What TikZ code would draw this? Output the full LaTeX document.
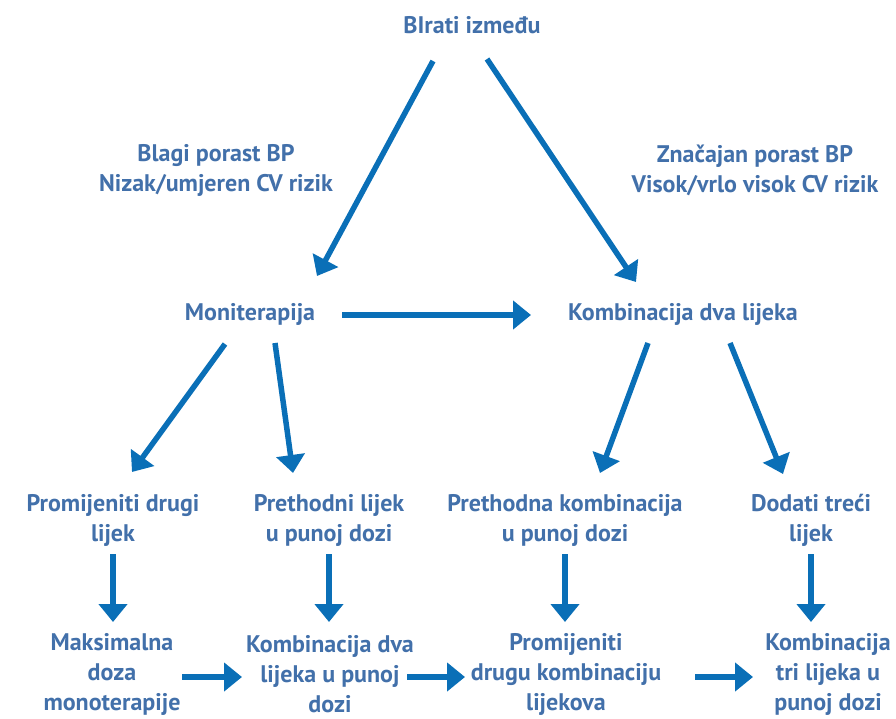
\documentclass[tikz,border=0pt]{standalone}
\usepackage{fontspec}
\setmainfont{PT Sans}
\usetikzlibrary{arrows.meta}

\definecolor{txtblue}{RGB}{66,112,170}
\definecolor{arrblue}{RGB}{10,111,183}

\begin{document}
\begin{tikzpicture}[x=1pt,y=-1pt,
	lbl/.style={align=center, text=txtblue, inner sep=0pt,
		font=\bfseries\fontsize{24}{30}\selectfont},
	arr/.style={draw=arrblue, line width=5.5pt,
		-{Triangle[width=28pt,length=18pt]}}]
	\useasboundingbox (0,0) rectangle (896,719);

	% Top and risk labels
	\node[lbl] (top) at (472,25) {BIrati između};
	\node[lbl] (blagi) at (216,170) {Blagi porast BP\\Nizak/umjeren CV rizik};
	\node[lbl] (znac) at (755,170) {Značajan porast BP\\Visok/vrlo visok CV rizik};

	% Therapy choice
	\node[lbl] (mono) at (250,314) {Moniterapija};
	\node[lbl] (komb) at (683,314) {Kombinacija dva lijeka};

	% Second row
	\node[lbl] (prom) at (113,520) {Promijeniti drugi\\lijek};
	\node[lbl] (preth) at (329,520) {Prethodni lijek\\u punoj dozi};
	\node[lbl] (prethk) at (565,520) {Prethodna kombinacija\\u punoj dozi};
	\node[lbl] (dod) at (811,520) {Dodati treći\\lijek};

	% Bottom row
	\node[lbl] (maks) at (112,674) {Maksimalna\\doza\\monoterapije};
	\node[lbl] (kdva) at (330,674) {Kombinacija dva\\lijeka u punoj\\dozi};
	\node[lbl] (pdk) at (566,674) {Promijeniti\\drugu kombinaciju\\lijekova};
	\node[lbl] (ktri) at (828,674) {Kombinacija\\tri lijeka u\\punoj dozi};

	% Arrows from the top
	\draw[arr] ([shift={(-39,36)}]top.center) -- ([shift={(67,-38)}]mono.center);
	\draw[arr] ([shift={(15,34)}]top.center) -- ([shift={(-47,-32)}]komb.center);
	\draw[arr] ([shift={(92,1)}]mono.center) -- ([shift={(-152,1)}]komb.center);

	% Arrows to the second row
	\draw[arr] ([shift={(-25,30)}]mono.center) -- ([shift={(19,-48)}]prom.center);
	\draw[arr] ([shift={(25,29)}]mono.center) -- ([shift={(-36,-47)}]preth.center);
	\draw[arr] ([shift={(-35,29)}]komb.center) -- ([shift={(35,-47)}]prethk.center);
	\draw[arr] ([shift={(47,29)}]komb.center) -- ([shift={(-28,-46)}]dod.center);

	% Down arrows
	\draw[arr] ([yshift=-34]prom.center) -- ([yshift=52]prom.center |- maks.center);
	\draw[arr] ([yshift=-34]preth.center) -- ([yshift=52]preth.center |- kdva.center);
	\draw[arr] ([yshift=-34]prethk.center) -- ([yshift=52]prethk.center |- pdk.center);
	\draw[arr] ([yshift=-34]dod.center) -- ([yshift=52]dod.center |- ktri.center);

	% Bottom row arrows
	\draw[arr] ([shift={(70,3)}]maks.center) -- ([shift={(-88,3)}]kdva.center);
	\draw[arr] ([shift={(77,3)}]kdva.center) -- ([shift={(-101,3)}]pdk.center);
	\draw[arr] ([shift={(129,3)}]pdk.center) -- ([shift={(-75,3)}]ktri.center);
\end{tikzpicture}
\end{document}
